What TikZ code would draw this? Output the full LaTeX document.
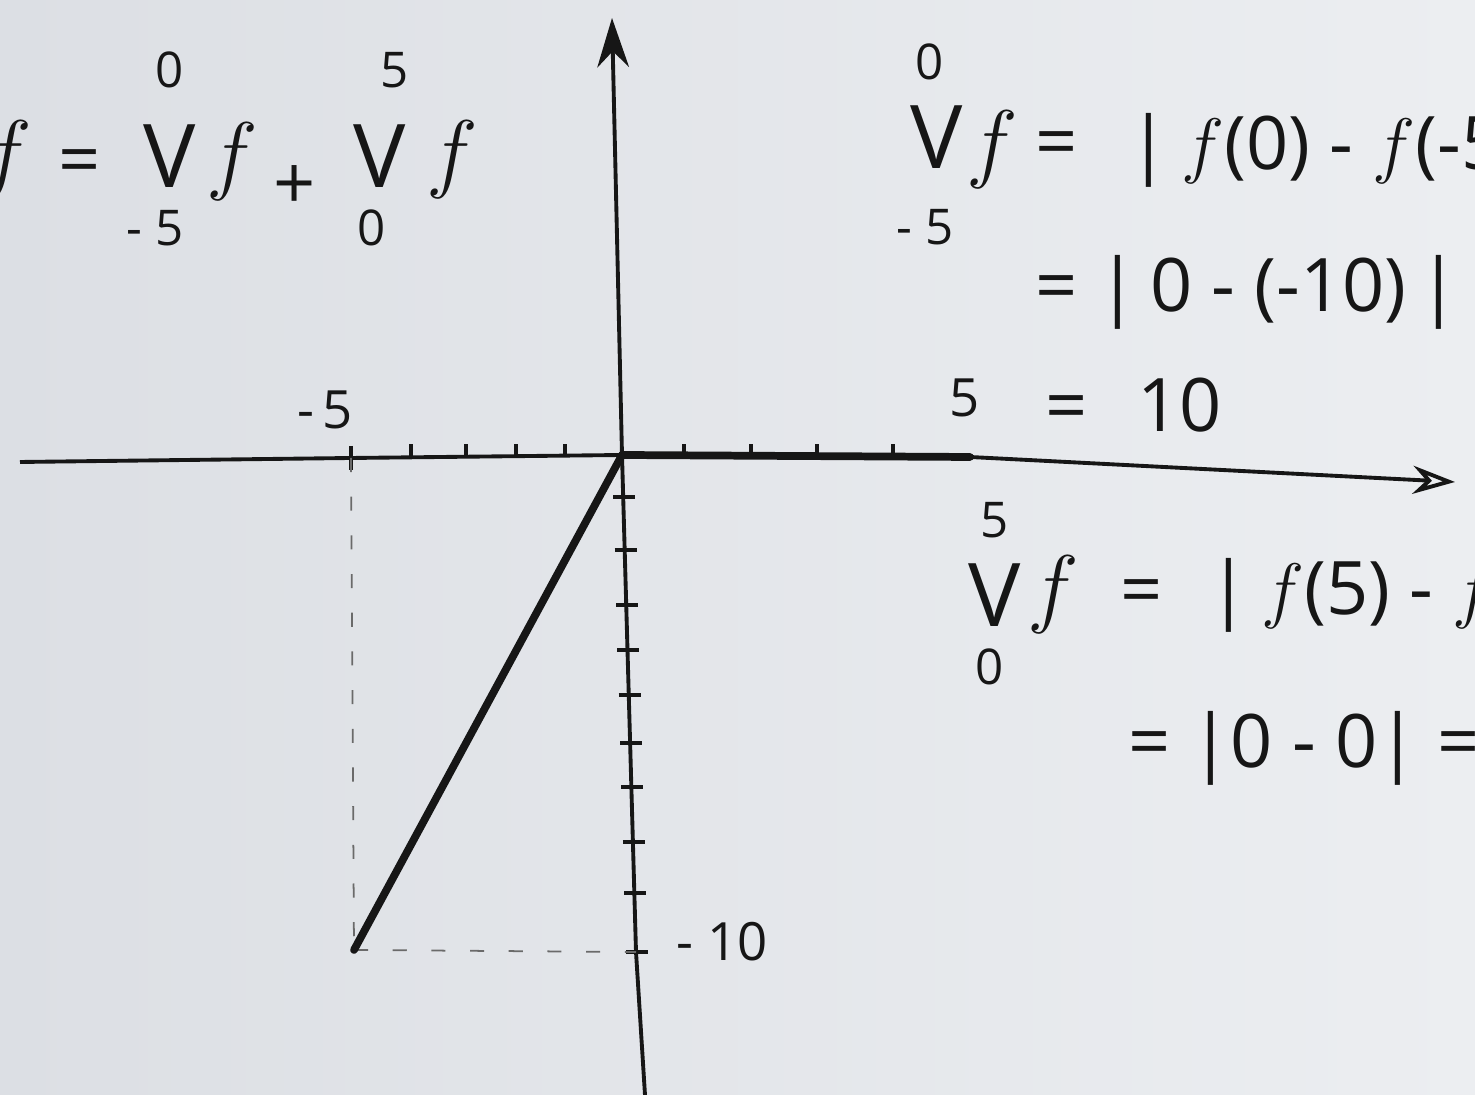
\documentclass[tikz,border=0pt]{standalone}
\usepackage{fontspec}
\setmainfont{Open Sans}
\usetikzlibrary{arrows.meta}
\definecolor{paperL}{HTML}{DCDFE4}
\definecolor{paperR}{HTML}{ECEEF1}
\definecolor{ink}{HTML}{161616}
\definecolor{guideCol}{HTML}{6A6A6A}
\tikzset{
  axis/.style={draw=ink, line width=1.1pt},
  graphline/.style={draw=ink, line width=2.2pt, line cap=round},
  guide/.style={draw=guideCol, line width=0.5pt, dash pattern=on 4pt off 7pt},
  tickmark/.style={draw=ink, line width=1.1pt},
  hand/.style={text=ink, font=\fontsize{21}{25}\selectfont, inner sep=0pt},
  limit/.style={text=ink, font=\fontsize{14}{16}\selectfont, inner sep=0pt},
  bigV/.style={text=ink, font=\fontsize{25}{27}\selectfont, inner sep=0pt},
  fn/.style={text=ink, font=\fontsize{28}{30}\selectfont, inner sep=0pt},
  axlabel/.style={text=ink, font=\fontsize{15}{17}\selectfont, inner sep=0pt},
}
\begin{document}
\begin{tikzpicture}[x=0.01cm, y=-0.01cm]
  \useasboundingbox (0,0) rectangle (1475,1095);
  \shade[left color=paperL, right color=paperR] (0,0) rectangle (1475,1095);

  % Axes
  \coordinate (O) at (622,455);
  \coordinate (xl) at (20,462);
  \coordinate (xm) at (351,458);
  \coordinate (xr) at (970,457);
  \coordinate (xe) at (1455,482);
  \coordinate (yt) at (612,18);
  \coordinate (yb) at (645,1095);
  \coordinate (P) at (354,950);
  \coordinate (Q) at (636,952);

  \draw[axis, -{Stealth[length=12pt, width=8pt, open]}] (xl) -- (xm) -- (O) -- (xr) -- (xe);
  \draw[axis, -{Stealth[length=14pt, width=9pt]}] (yb) -- (Q) -- (O) -- (yt);

  % ticks
  \foreach \tx in {411,466,516,565,684,751,817,893}
    \draw[tickmark] (\tx,456) -- ++(0,-12);
  \draw[tickmark] (xm) ++(0,-12) -- ++(0,24);
  \foreach \ty in {497,550,605,650,695,743,787,842,893}
    \draw[tickmark] ({622+0.028*(\ty-455)-10},\ty) -- ++(22,0);
  \draw[tickmark] (Q) ++(-10,0) -- ++(22,0);

  % graph
  \draw[guide] (xm) -- (P);
  \draw[guide] (P) -- (Q);
  \draw[graphline] (O) -- (xr);
  \draw[graphline] (O) -- (P);

  \node[axlabel] (lm5) at (325,410) {-\,5};
  \node[axlabel] (lp5) at (965,398) {5};
  \node[axlabel] (lm10) at (722,942) {-\;10};

  % sum of variations
  \node[fn] (f0) at (6,160) {$f$};
  \node[hand] (eq0) at (80,168) {=};
  \node[bigV] (V1) at (170,156) {V};
  \node[limit] (V1t) at (170,70) {0};
  \node[limit] (V1b) at (155,228) {-\;5};
  \node[fn] (f1) at (232,162) {$f$};
  \node[hand] (plus) at (295,188) {+};
  \node[bigV] (V2) at (380,156) {V};
  \node[limit] (V2t) at (395,70) {5};
  \node[limit] (V2b) at (372,228) {0};
  \node[fn] (f2) at (452,160) {$f$};

  % variation on [-5,0]
  \node[limit] (V3t) at (930,62) {0};
  \node[bigV] (V3) at (937,137) {V};
  \node[limit] (V3b) at (925,227) {-\;5};
  \node[fn] (f3) at (992,150) {$f$};
  \node[hand] (eq3) at (1057,150) {=};
  \node[hand, anchor=west] (v3a) at (1128,150) {|\,$f$(0) - $f$(-5)|};
  \node[hand, anchor=west] (v3b) at (1035,292) {= |\,0 - (-10)\,|};
  \node[hand, anchor=west] (v3c) at (1045,405) {=\hspace{14pt}10};

  % variation on [0,5]
  \node[limit] (V4t) at (995,520) {5};
  \node[bigV] (V4) at (995,595) {V};
  \node[limit] (V4b) at (990,667) {0};
  \node[fn] (f4) at (1053,595) {$f$};
  \node[hand] (eq4) at (1142,598) {=};
  \node[hand, anchor=west] (v4a) at (1208,595) {|\,$f$(5) - $f$(0)|};
  \node[hand, anchor=west] (v4b) at (1128,748) {= |0 - 0| = 0};
\end{tikzpicture}
\end{document}
